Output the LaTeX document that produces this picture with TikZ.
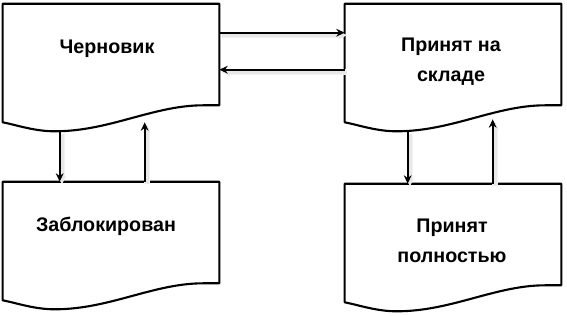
\documentclass[tikz,border=0pt]{standalone}
\usepackage{fontspec}
\setmainfont{Liberation Sans}
\usetikzlibrary{arrows.meta}

% outline of a document box, drawn round a named node
\newcommand{\docoutline}[1]{%
  \draw[docline] (#1.north west) -- (#1.north east) -- (#1.south east)
    -- ++(-16,0) .. controls +(-50,0) and +(55,0) .. ([shift={(52,26)}]#1.south west)
    .. controls +(-20,0) and +(15,3) .. ([shift={(0,17)}]#1.south west) -- cycle;}

\begin{document}
\begin{tikzpicture}[
          x=0.025cm, y=-0.025cm,
          docbox/.style={
              minimum width=5.4cm,
              minimum height=2.525cm,
              inner sep=0pt
            },
          docline/.style={
              draw=black,
              line width=1.5pt,
              line join=round
            },
          doctext/.style={
              font=\bfseries\fontsize{14}{21.5}\selectfont,
              align=center
            },
          arr/.style={-{Stealth[length=6pt, width=5.5pt]}, line width=1.3pt,
              preaction={draw=black!5, line width=4.5pt,
                transform canvas={xshift=1.6pt, yshift=-1.8pt}},
              preaction={draw=black!9, line width=2.4pt,
                transform canvas={xshift=1.6pt, yshift=-1.8pt}}}
        ]
        \useasboundingbox (0,0) rectangle (567,316);

        \node[docbox] (draft) at (111,54.5) {};
        \node[docbox] (blocked) at (111,232.5) {};
        \node[docbox] (stock) at (453,54.5) {};
        \node[docbox] (full) at (453,234.5) {};

        \docoutline{draft}
        \docoutline{blocked}
        \docoutline{stock}
        \docoutline{full}

        \node[doctext] (draft_txt) at (107,49) {Черновик};
        \node[doctext] (blocked_txt) at (106,226) {Заблокирован};
        \node[doctext] (stock_txt) at (451,62) {Принят на\\складе};
        \node[doctext] (full_txt) at (452,241) {Принят\\полностью};

        \draw[arr] ([shift={(0,29)}]draft.north east) -- ([shift={(0,29)}]stock.north west);
        \draw[arr] ([shift={(0,66)}]stock.north west) -- ([shift={(0,66)}]draft.north east);

        \draw[arr] ([shift={(57,26)}]draft.south west) -- ([shift={(57,0)}]blocked.north west);
        \draw[arr] ([shift={(142,0)}]blocked.north west) -- ([shift={(142,17)}]draft.south west);

        \draw[arr] ([shift={(63,26)}]stock.south west) -- ([shift={(63,0)}]full.north west);
        \draw[arr] ([shift={(148,0)}]full.north west) -- ([shift={(148,14)}]stock.south west);
      \end{tikzpicture}
\end{document}
